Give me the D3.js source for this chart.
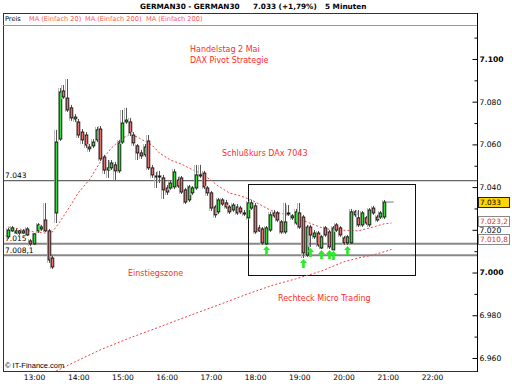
<!DOCTYPE html>
<html>
<head>
<meta charset="utf-8">
<script src="https://cdn.jsdelivr.net/npm/d3@7"></script>
<style>
body { margin: 0; background: #fff; }
svg { display: block; }
text { font-family: "DejaVu Sans", Verdana, sans-serif; }
</style>
</head>
<body>
<div id="chart"></div>
<script>
// SVG wrapper dimensions
var svgWidth = 512;
var svgHeight = 384;

// plot frame (legend strip sits above plot.top)
var frame = { left: 3, right: 477, top: 13, legendBottom: 25, bottom: 371 };

// 5 minute bars, first bar at 12:25
var firstBar = "2012-05-02 12:25";
var opens = [7016.7, 7019.5, 7018.5, 7019.5, 7018.5, 7020.4, 7014.8, 7013.4, 7019.5, 7020.4,
    7024.6, 7019.5, 7006.8, 7027.9, 7062.5, 7085.0, 7081.7, 7077.1, 7071.9, 7070.5,
    7065.8, 7064.4, 7058.8, 7059.3, 7062.1, 7067.2, 7054.1, 7048.0, 7049.0, 7050.4,
    7047.6, 7061.1, 7070.5, 7070.5, 7064.4, 7059.3, 7056.0, 7055.1, 7061.6, 7049.0,
    7045.2, 7044.8, 7044.3, 7039.6, 7039.6, 7040.1, 7043.3, 7044.3, 7038.7, 7034.0,
    7037.3, 7039.6, 7045.7, 7046.6, 7039.6, 7037.3, 7030.7, 7028.4, 7034.0, 7032.6,
    7030.7, 7029.3, 7030.7, 7030.2, 7027.9, 7025.6, 7030.2, 7031.2, 7020.9, 7020.4,
    7013.4, 7019.9, 7027.9, 7027.9, 7023.7, 7019.0, 7027.9, 7025.6, 7023.2, 7027.9,
    7026.0, 7008.2, 7021.3, 7016.7, 7018.5, 7011.5, 7020.9, 7019.0, 7010.6, 7022.3,
    7020.9, 7016.2, 7013.9, 7013.9, 7028.4, 7025.6, 7022.3, 7025.6, 7022.3, 7030.2,
    7026.0, 7026.0, 7026.0];
var highs = [7020.9, 7021.8, 7020.4, 7019.9, 7020.4, 7021.3, 7015.7, 7018.5, 7023.2, 7022.3,
    7032.6, 7020.4, 7007.8, 7066.8, 7086.4, 7087.8, 7090.6, 7078.5, 7074.2, 7071.9,
    7067.2, 7065.8, 7060.2, 7062.5, 7068.2, 7068.6, 7055.1, 7052.7, 7052.7, 7051.8,
    7062.1, 7076.1, 7077.1, 7072.4, 7065.8, 7060.2, 7057.4, 7060.2, 7064.4, 7050.4,
    7047.1, 7047.6, 7045.7, 7041.0, 7042.9, 7048.5, 7044.8, 7045.2, 7039.6, 7041.0,
    7040.5, 7050.4, 7050.4, 7047.6, 7040.5, 7038.2, 7031.6, 7034.9, 7034.9, 7034.0,
    7031.6, 7032.6, 7032.1, 7031.2, 7029.3, 7033.5, 7034.0, 7032.6, 7022.3, 7021.3,
    7021.8, 7028.4, 7029.3, 7028.8, 7024.6, 7032.6, 7031.6, 7027.4, 7029.8, 7032.6,
    7027.0, 7022.3, 7022.3, 7019.9, 7019.5, 7017.6, 7021.8, 7019.9, 7021.8, 7023.2,
    7021.8, 7017.1, 7017.6, 7029.8, 7029.3, 7029.3, 7028.8, 7026.5, 7030.2, 7031.2,
    7027.0, 7028.8, 7034.0];
var lows = [7015.7, 7019.0, 7018.1, 7017.6, 7018.1, 7017.1, 7012.4, 7012.9, 7018.5, 7019.5,
    7019.0, 7004.5, 7001.7, 7023.2, 7061.6, 7081.3, 7075.2, 7071.0, 7070.5, 7063.0,
    7060.2, 7058.3, 7056.5, 7058.3, 7061.1, 7052.2, 7046.2, 7044.3, 7048.0, 7043.3,
    7046.6, 7060.2, 7069.6, 7063.9, 7059.3, 7052.7, 7053.2, 7054.1, 7048.0, 7044.3,
    7039.6, 7041.9, 7034.5, 7036.3, 7038.7, 7039.1, 7039.6, 7036.8, 7032.1, 7033.0,
    7036.3, 7038.7, 7044.3, 7039.1, 7035.9, 7028.8, 7025.6, 7027.4, 7031.2, 7029.8,
    7027.4, 7028.4, 7027.0, 7027.4, 7026.5, 7024.6, 7029.3, 7018.1, 7019.0, 7012.9,
    7012.9, 7019.0, 7025.6, 7023.7, 7018.1, 7018.1, 7026.5, 7024.6, 7022.3, 7020.4,
    7006.8, 7007.3, 7012.0, 7015.7, 7012.0, 7011.0, 7016.7, 7011.0, 7010.6, 7019.0,
    7016.7, 7012.9, 7012.9, 7013.4, 7026.0, 7021.3, 7021.3, 7022.3, 7021.3, 7027.0,
    7023.7, 7025.1, 7025.1];
var closes = [7019.9, 7020.9, 7019.5, 7018.5, 7019.5, 7017.6, 7013.4, 7018.1, 7022.3, 7021.3,
    7019.5, 7005.9, 7002.6, 7061.1, 7084.5, 7082.2, 7076.1, 7072.4, 7072.8, 7064.4,
    7062.1, 7059.7, 7057.9, 7061.1, 7066.8, 7053.2, 7048.0, 7049.0, 7051.3, 7047.6,
    7060.7, 7070.0, 7071.4, 7065.4, 7060.7, 7056.0, 7054.6, 7058.8, 7049.0, 7045.7,
    7044.8, 7045.2, 7038.7, 7037.7, 7041.9, 7047.1, 7040.5, 7037.7, 7033.0, 7040.1,
    7039.6, 7045.7, 7045.2, 7040.1, 7037.3, 7030.2, 7027.0, 7034.0, 7032.1, 7030.7,
    7028.4, 7031.6, 7027.9, 7028.4, 7027.4, 7032.6, 7032.6, 7019.0, 7019.5, 7013.9,
    7020.9, 7027.0, 7026.5, 7024.6, 7019.0, 7023.7, 7027.4, 7026.5, 7028.4, 7021.3,
    7009.2, 7021.3, 7017.6, 7018.5, 7012.9, 7016.7, 7017.6, 7012.0, 7020.9, 7019.9,
    7017.6, 7013.9, 7016.7, 7028.4, 7027.0, 7022.3, 7027.9, 7023.2, 7029.3, 7027.9,
    7024.6, 7027.9, 7033.0];

// moving averages
var ma20Times = ["12:25", "12:40", "13:00", "13:15", "13:25", "13:35", "13:50", "14:00", "14:15", "14:30",
    "14:45", "15:00", "15:10", "15:20", "15:30", "15:40", "15:50", "16:05", "16:20", "16:30",
    "16:45", "17:00", "17:10", "17:25", "17:40", "17:55", "18:05", "18:25", "18:40", "18:55",
    "19:10", "19:35", "19:55", "20:20", "20:40", "20:55", "21:05"];
var ma20Values = [7021.3, 7020.4, 7019.0, 7018.5, 7019.0, 7023.7, 7031.6, 7037.3, 7043.3, 7051.8,
    7058.3, 7063.0, 7064.4, 7063.5, 7061.6, 7059.7, 7056.0, 7052.7, 7050.8, 7049.0,
    7046.6, 7043.3, 7040.5, 7037.3, 7035.9, 7034.0, 7032.1, 7028.4, 7027.4, 7026.0,
    7023.7, 7020.4, 7019.9, 7019.5, 7021.3, 7022.8, 7023.2];
var ma200Times = ["13:25", "13:55", "14:30", "15:10", "15:50", "16:30", "17:10", "17:50", "18:25", "18:55",
    "19:30", "20:00", "20:20", "20:40", "21:05"];
var ma200Values = [6953.0, 6958.1, 6963.8, 6969.4, 6974.5, 6979.7, 6984.8, 6990.0, 6994.2, 6997.0,
    7000.7, 7005.0, 7006.8, 7008.2, 7010.8];

// horizontal levels
var levelValues = [7043, 7013.5, 7008.1];
var levelLabels = ["7.043", "7.015", "7.008,1"];

// bars marked with a buy arrow
var signalBars = [70, 80, 82, 85, 87, 88, 92];

// "Rechteck Micro Trading" box
var boxTimes = ["17:50", "21:37"];
var boxPrices = [6999, 7041.5];

var hourTicks = ["13:00", "14:00", "15:00", "16:00", "17:00", "18:00", "19:00", "20:00", "21:00", "22:00"];
var priceTicks = [6960, 6980, 7000, 7020, 7040, 7060, 7080, 7100];
var minorTicks = [6970, 6990, 7010, 7030, 7050, 7070, 7090, 7110];

// last values shown on the right (shift = nudge to keep tags apart)
var lastLabels = [
    { value: 7033, text: "7.033", fill: "#ffd500", color: "#000", stroke: "#223" },
    { value: 7023.2, text: "7.023,2", fill: "#fff", color: "#e03030", stroke: "#888", shift: -2 },
    { value: 7010.8, text: "7.010,8", fill: "#fff", color: "#e03030", stroke: "#888", shift: -10 }
];

var parseTime = d3.timeParse("%Y-%m-%d %H:%M");
var day = "2012-05-02 ";
var t0 = parseTime(firstBar);

var bars = opens.map((o, i) => ({
    t: d3.timeMinute.offset(t0, 5 * i),
    o: o, h: highs[i], l: lows[i], c: closes[i]
}));

var ma20 = ma20Times.map((t, i) => ({ t: parseTime(day + t), v: ma20Values[i] }));
var ma200 = ma200Times.map((t, i) => ({ t: parseTime(day + t), v: ma200Values[i] }));

var xScale = d3.scaleTime()
    .domain([parseTime(day + "12:18"), parseTime(day + "23:01")])
    .range([frame.left, frame.right]);

var yScale = d3.scaleLinear()
    .domain([6953.9, 7115.9])
    .range([frame.bottom, frame.legendBottom]);

var de = d3.formatLocale({ decimal: ",", thousands: ".", grouping: [3], currency: ["", "€"] });
var priceFmt = de.format(",.0f");

var svg = d3.select("#chart")
    .append("svg")
    .attr("width", svgWidth)
    .attr("height", svgHeight);

svg.append("rect").attr("width", svgWidth).attr("height", svgHeight).attr("fill", "white");

// title
var title = svg.append("g").style("font-weight", "bold").style("font-size", "7.3px");
title.append("text").attr("x", 140).attr("y", 9).text("GERMAN30 - GERMAN30");
title.append("text").attr("x", 253).attr("y", 9).text("7.033 (+1,79%)");
title.append("text").attr("x", 325).attr("y", 9).text("5 Minuten");

// frame + legend strip
svg.append("rect")
    .attr("x", frame.left + 0.5).attr("y", frame.top + 0.5)
    .attr("width", frame.right - frame.left).attr("height", frame.bottom - frame.top)
    .attr("fill", "none").attr("stroke", "#333");
svg.append("line")
    .attr("x1", frame.left).attr("x2", frame.right)
    .attr("y1", frame.legendBottom + 0.5).attr("y2", frame.legendBottom + 0.5)
    .attr("stroke", "#999");

var legend = svg.append("g").style("font-family", "'Liberation Sans', Arial, sans-serif").style("font-size", "6.6px");
[["Preis", 5, "#000"], ["MA (Einfach 20)", 29, "#ff5555"], ["MA (Einfach 200)", 85, "#ff5555"], ["MA (Einfach 200)", 146, "#ff5555"]]
    .forEach(d => legend.append("text").attr("x", d[1]).attr("y", 21).attr("fill", d[2]).text(d[0]));

// clip for plot contents
svg.append("clipPath").attr("id", "plotClip")
    .append("rect")
    .attr("x", frame.left + 1).attr("y", frame.legendBottom + 1)
    .attr("width", frame.right - frame.left - 1).attr("height", frame.bottom - frame.legendBottom - 1);

var chartGroup = svg.append("g").attr("clip-path", "url(#plotClip)");

// horizontal levels
levelValues.forEach((v, i) => {
    var y = yScale(v);
    chartGroup.append("line")
        .attr("x1", frame.left).attr("x2", frame.right)
        .attr("y1", y).attr("y2", y)
        .attr("stroke", i === 0 ? "#666" : "#888")
        .attr("stroke-width", i === 0 ? 1.3 : 2);
    chartGroup.append("text")
        .attr("x", 5).attr("y", y - 2.5)
        .style("font-size", "7.5px")
        .text(levelLabels[i]);
});

// box
chartGroup.append("rect")
    .attr("x", Math.round(xScale(parseTime(day + boxTimes[0]))) + 0.5)
    .attr("y", Math.round(yScale(boxPrices[1])) + 0.5)
    .attr("width", Math.round(xScale(parseTime(day + boxTimes[1])) - xScale(parseTime(day + boxTimes[0]))))
    .attr("height", Math.round(yScale(boxPrices[0]) - yScale(boxPrices[1])))
    .attr("fill", "none").attr("stroke", "#111");

// moving averages
var maLine = d3.line().x(d => xScale(d.t)).y(d => yScale(d.v));
chartGroup.append("path").datum(ma200).attr("d", maLine)
    .attr("fill", "none").attr("stroke", "#ee4444").attr("stroke-width", 1).attr("stroke-dasharray", "2,2");
chartGroup.append("path").datum(ma20).attr("d", maLine)
    .attr("fill", "none").attr("stroke", "#ee4444").attr("stroke-width", 1).attr("stroke-dasharray", "2,2");

// candles
var candles = chartGroup.selectAll("g.candle")
    .data(bars)
    .enter()
    .append("g")
    .classed("candle", true)
    .attr("transform", d => `translate(${Math.round(xScale(d.t))}, 0)`);

candles.append("line")
    .attr("x1", -1.5).attr("x2", -1.5)
    .attr("y1", d => yScale(d.h)).attr("y2", d => yScale(d.l))
    .attr("stroke", "#bbb");

candles.append("line")
    .attr("x1", 0.5).attr("x2", 0.5)
    .attr("y1", d => yScale(d.h)).attr("y2", d => yScale(d.l))
    .attr("stroke", "#555");

candles.append("rect")
    .attr("x", -0.8)
    .attr("y", d => yScale(Math.max(d.o, d.c)))
    .attr("width", 2.6)
    .attr("height", d => Math.max(1, yScale(Math.min(d.o, d.c)) - yScale(Math.max(d.o, d.c))))
    .attr("fill", d => d.c >= d.o ? "#33dd33" : "#e86f6a")
    .attr("stroke", "#111")
    .attr("stroke-width", 0.9);

// last price tick
var lastBar = bars[bars.length - 1];
chartGroup.append("line")
    .attr("x1", xScale(lastBar.t) + 2).attr("x2", xScale(d3.timeMinute.offset(lastBar.t, 13)))
    .attr("y1", yScale(lastBar.c)).attr("y2", yScale(lastBar.c))
    .attr("stroke", "#777");

// buy arrows
chartGroup.selectAll("path.arrow")
    .data(signalBars.map(i => bars[i]))
    .enter()
    .append("path")
    .classed("arrow", true)
    .attr("d", "M0,0L3.5,4L1.3,4L1.3,9L-1.3,9L-1.3,4L-3.5,4Z")
    .attr("transform", d => `translate(${Math.round(xScale(d.t)) + 0.5}, ${yScale(d.l) + 1})`)
    .attr("fill", "#22ee22");

// annotations
var notes = svg.append("g").attr("fill", "#ff2a2a").style("font-size", "8px");
[["Handelstag 2 Mai", 190, 52], ["DAX Pivot Strategie", 190, 63], ["Schlußkurs DAx 7043", 222, 156],
 ["Einstiegszone", 128, 276], ["Rechteck Micro Trading", 278, 301]]
    .forEach(d => notes.append("text").attr("x", d[1]).attr("y", d[2]).text(d[0]));

svg.append("text").attr("x", 5).attr("y", 368)
    .style("font-family", "'Liberation Sans', Arial, sans-serif").style("font-size", "7.5px")
    .text("© IT-Finance.com");

// right price axis
svg.append("line")
    .attr("x1", frame.right + 0.5).attr("x2", frame.right + 0.5)
    .attr("y1", frame.top).attr("y2", frame.bottom + 1)
    .attr("stroke", "#000");

var minorAxis = svg.append("g")
    .attr("transform", `translate(${frame.right + 0.5}, 0)`)
    .call(d3.axisRight(yScale).tickValues(minorTicks).tickSizeInner(-3).tickSizeOuter(0).tickFormat(""));
minorAxis.select(".domain").remove();

var rightAxis = svg.append("g")
    .attr("transform", `translate(${frame.right + 0.5}, 0)`)
    .call(d3.axisRight(yScale).tickValues(priceTicks).tickSizeInner(-5).tickSizeOuter(0).tickPadding(2).tickFormat(priceFmt));
rightAxis.select(".domain").remove();
rightAxis.selectAll("text")
    .style("font-family", "'DejaVu Sans', Verdana, sans-serif")
    .style("font-size", "7.6px")
    .style("font-weight", d => d % 100 === 0 ? "bold" : "normal");

// last value tags
lastLabels.forEach(d => {
    var y = yScale(d.value) + (d.shift || 0);
    svg.append("rect")
        .attr("x", frame.right + 1.5).attr("y", Math.round(y - 5) + 0.5)
        .attr("width", 31).attr("height", 10)
        .attr("fill", d.fill).attr("stroke", d.stroke);
    svg.append("text")
        .attr("x", frame.right + 3).attr("y", y + 2.7)
        .attr("fill", d.color)
        .style("font-size", "7.3px")
        .text(d.text);
});

// time axis
var bottomAxis = svg.append("g")
    .attr("transform", `translate(0, ${frame.bottom})`)
    .call(d3.axisBottom(xScale)
        .tickValues(hourTicks.map(h => parseTime(day + h)))
        .tickFormat(d3.timeFormat("%H:%M"))
        .tickSize(0).tickPadding(4));
bottomAxis.select(".domain").remove();
bottomAxis.selectAll("text")
    .style("font-family", "'DejaVu Sans', Verdana, sans-serif")
    .style("font-size", "7.5px");
</script>
</body>
</html>
